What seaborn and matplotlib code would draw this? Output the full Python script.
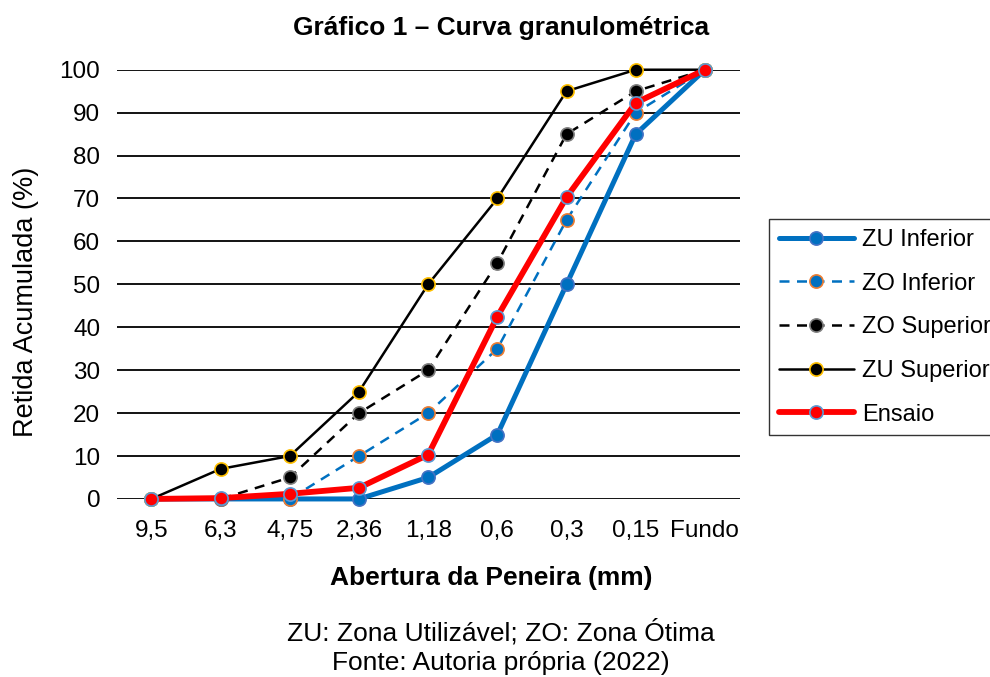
import pandas as pd
import matplotlib.pyplot as plt
import seaborn as sns

# Peneiras (abertura em mm)
peneiras = ["9,5", "6,3", "4,75", "2,36", "1,18", "0,6", "0,3", "0,15", "Fundo"]

zu_inferior = [0, 0, 0, 0, 5, 15, 50, 85, 100]
zo_inferior = [0, 0, 0, 10, 20, 35, 65, 90, 100]
zo_superior = [0, 0, 5, 20, 30, 55, 85, 95, 100]
zu_superior = [0, 7, 10, 25, 50, 70, 95, 100, 100]
ensaio = [0, 0.2, 1.2, 2.6, 10.3, 42.5, 70.3, 92.3, 100]

sns.set_theme(style="white")
plt.rcParams['font.family'] = ['Liberation Sans', 'DejaVu Sans']
plt.rcParams['text.color'] = 'black'
plt.rcParams['axes.labelcolor'] = 'black'
plt.rcParams['xtick.color'] = 'black'
plt.rcParams['ytick.color'] = 'black'

fig = plt.figure(figsize=(9.9, 6.77), dpi=100)
ax = fig.add_axes([0.118, 0.263, 0.629, 0.634])

# estilo de cada série: (valores, rótulo, cor linha, largura, tracejado, cor marcador, borda marcador)
series = [
    (zu_inferior, "ZU Inferior", "#0070C0", 3.6, "-", "#0070C0", "#4472C4"),
    (zo_inferior, "ZO Inferior", "#0070C0", 1.8, (0, (4, 3)), "#0070C0", "#ED7D31"),
    (zo_superior, "ZO Superior", "black", 1.8, (0, (4, 3)), "black", "#7F7F7F"),
    (zu_superior, "ZU Superior", "black", 1.8, "-", "black", "#FFC000"),
    (ensaio, "Ensaio", "#FF0000", 4.2, "-", "#FF0000", "#5B9BD5"),
]

for vals, label, color, lw, ls, mfc, mec in series:
    df = pd.DataFrame({"Peneira": peneiras, "Retida": vals})
    sns.lineplot(data=df, x="Peneira", y="Retida", ax=ax, label=label,
                 color=color, linewidth=lw, linestyle=ls, marker="o",
                 markersize=9.5, markerfacecolor=mfc, markeredgecolor=mec,
                 markeredgewidth=1.2, sort=False, clip_on=False)

ax.set_xlim(-0.5, len(peneiras) - 0.5)
ax.set_ylim(0, 100)
ax.set_yticks(range(0, 101, 10))
ax.grid(axis="y", color="black", linewidth=1.3)
ax.set_axisbelow(True)
for s in ax.spines.values():
    s.set_visible(False)
ax.tick_params(axis="both", labelsize=17.5, length=0)
ax.tick_params(axis="x", pad=15)
ax.tick_params(axis="y", pad=12)
ax.set_xlabel("")
ax.set_ylabel("Retida Acumulada (%)", fontsize=19.5)
ax.yaxis.set_label_coords(-0.125, 0.46)

ax.legend(loc="upper left", bbox_to_anchor=(0.777, 0.676), bbox_transform=fig.transFigure,
          fontsize=17, frameon=True, fancybox=False, edgecolor="black",
          handlelength=3.2, borderpad=0.4, labelspacing=0.92, handletextpad=0.34,
          borderaxespad=0)

fig.text(0.506, 0.958, "Gráfico 1 – Curva granulométrica", ha="center", va="center",
         fontsize=19, fontweight="bold")
fig.text(0.496, 0.146, "Abertura da Peneira (mm)", ha="center", va="center",
         fontsize=19, fontweight="bold")
fig.text(0.506, 0.066, "ZU: Zona Utilizável; ZO: Zona Ótima", ha="center", va="center", fontsize=19)
fig.text(0.506, 0.020, "Fonte: Autoria própria (2022)", ha="center", va="center", fontsize=19)

fig.savefig("out.png", dpi=100)
